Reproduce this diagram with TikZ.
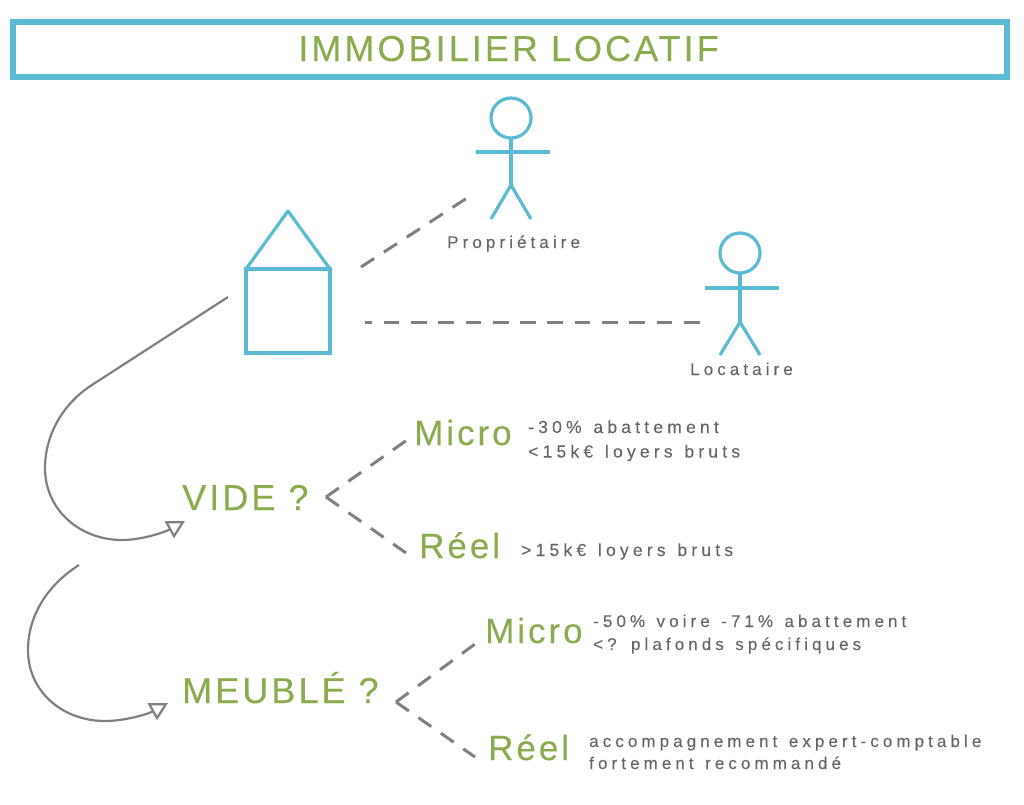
\documentclass[tikz,border=0pt]{standalone}
\usepackage{fontspec}
\usetikzlibrary{arrows.meta}
\setmainfont{Liberation Sans}
\newfontfamily\titlesp[LetterSpace=8.5,FakeBold=0.2]{Liberation Sans}
\newfontfamily\bigsp[LetterSpace=8.5,FakeBold=0.2]{Liberation Sans}
\newfontfamily\midsp[LetterSpace=8.5,FakeBold=0.2]{Liberation Sans}
\newfontfamily\smallsp[LetterSpace=24,WordSpace=1.3,FakeBold=0.2]{Liberation Sans}
\definecolor{teal1}{HTML}{5CBBD4}
\definecolor{green1}{HTML}{8AAB4E}
\definecolor{gray1}{HTML}{808080}
\definecolor{text1}{HTML}{666666}
\tikzset{
 x=1pt,y=-1pt,
 figure/.style={draw=teal1,line width=3.2pt,outer sep=0pt},
 dashline/.style={draw=gray1,line width=3pt,dash pattern=on 15.7pt off 11.6pt},
 flow/.style={draw=gray1,line width=2.2pt,-{Triangle[open,length=18pt,width=19pt,line width=2.2pt,fill=white]}},
 heading/.style={anchor=base west,inner sep=0pt,text=green1,font=\fontsize{36}{36}\selectfont\bigsp},
 method/.style={anchor=base west,inner sep=0pt,text=green1,font=\fontsize{35}{35}\selectfont\midsp},
 note/.style={anchor=base west,inner sep=0pt,text=text1,align=left,font=\fontsize{17}{24}\selectfont\smallsp},
 notewide/.style={note,font=\fontsize{17.5}{24.5}\selectfont\smallsp},
}
\begin{document}
\begin{tikzpicture}
\useasboundingbox (0,0) rectangle (1024,804);
% title
\node[draw=teal1,line width=5.6pt,outer sep=0pt,minimum width=994pt,minimum height=55pt,inner sep=0pt,anchor=north west] (title) at (12.7,22) {};
\node[text=green1,inner sep=0pt,anchor=base,font=\fontsize{36}{36}\selectfont\titlesp] (titletext) at (508.5,61) {IMMOBILIER LOCATIF};
% house
\node[figure,draw,minimum width=84pt,minimum height=84pt,inner sep=0pt,anchor=north west] (house) at (246,269) {};
\coordinate (apex) at (288,211);
\draw[figure,line join=round] (house.north west) -- (apex) -- (house.north east);
% owner
\node[figure,draw,circle,minimum size=40pt,inner sep=0pt] (ownerhead) at (511,118) {};
\coordinate (ownerhip) at (511,185);
\coordinate (ownerarmL) at (476,152);
\coordinate (ownerarmR) at (550,152);
\coordinate (ownerlegL) at (491,219);
\coordinate (ownerlegR) at (531,219);
\draw[figure] (ownerhead.south) -- (ownerhip);
\draw[figure] (ownerarmL) -- (ownerarmR);
\draw[figure] (ownerlegL) -- (ownerhip) -- (ownerlegR);
\node[note] (ownerlabel) at (447,248) {Propriétaire};
% tenant
\node[figure,draw,circle,minimum size=40pt,inner sep=0pt] (tenanthead) at (740,253) {};
\coordinate (tenanthip) at (740,322);
\coordinate (tenantarmL) at (705,288);
\coordinate (tenantarmR) at (779,288);
\coordinate (tenantlegL) at (720,355);
\coordinate (tenantlegR) at (760,355);
\draw[figure] (tenanthead.south) -- (tenanthip);
\draw[figure] (tenantarmL) -- (tenantarmR);
\draw[figure] (tenantlegL) -- (tenanthip) -- (tenantlegR);
\node[note] (tenantlabel) at (690,375) {Locataire};
% house links
\coordinate (d1a) at (361,267);
\coordinate (d1b) at (467,198);
\coordinate (d2a) at (365,322);
\coordinate (d2b) at (700,322);
\draw[dashline] (d1a) -- (d1b);
\draw[dashline,dash phase=8.7pt] (d2a) -- (d2b);
% headings
\node[heading] (vide) at (182,510) {VIDE ?};
\node[heading] (meuble) at (182,703) {MEUBLÉ ?};
% methods
\node[method] (micro1) at (414,445) {Micro};
\node[method] (reel1) at (419,558) {Réel};
\node[method] (micro2) at (485,643) {Micro};
\node[method] (reel2) at (488,760) {Réel};
% notes
\node[notewide] (n1a) at (528,433) {-30\% abattement};
\node[notewide] (n1b) at (528,457.5) {<15k€ loyers bruts};
\node[notewide] (n2) at (521,556) {>15k€ loyers bruts};
\node[note] (n3a) at (593,627) {-50\% voire -71\% abattement};
\node[note] (n3b) at (593,650) {<? plafonds spécifiques};
\node[note] (n4a) at (589,747) {accompagnement expert-comptable};
\node[note] (n4b) at (589,769) {fortement recommandé};
% branches
\coordinate (v) at (326,497);
\coordinate (v1) at (407,440);
\coordinate (v2) at (409,555);
\coordinate (m) at (396,702);
\coordinate (m1) at (475,644);
\coordinate (m2) at (475,757);
\draw[dashline] (v) -- (v1);
\draw[dashline] (v) -- (v2);
\draw[dashline] (m) -- (m1);
\draw[dashline] (m) -- (m2);
% curved arrows
\coordinate (c1a) at (228,297);
\coordinate (c1b) at (95,383);
\coordinate (c1c) at (45,468);
\coordinate (c1d) at (122,540);
\coordinate (c1e) at (185,521);
\draw[flow] (c1a) -- (c1b) .. controls (62,403) and (45,436) .. (c1c)
  .. controls (45,510) and (80,540) .. (c1d) .. controls (142,540) and (165,532) .. (c1e);
\coordinate (c2a) at (79,565);
\coordinate (c2c) at (28,650);
\coordinate (c2d) at (105,721);
\coordinate (c2e) at (168,703);
\draw[flow] (c2a) .. controls (46,586) and (28,617) .. (c2c)
  .. controls (28,692) and (63,721) .. (c2d) .. controls (125,721) and (148,714) .. (c2e);
\end{tikzpicture}
\end{document}
